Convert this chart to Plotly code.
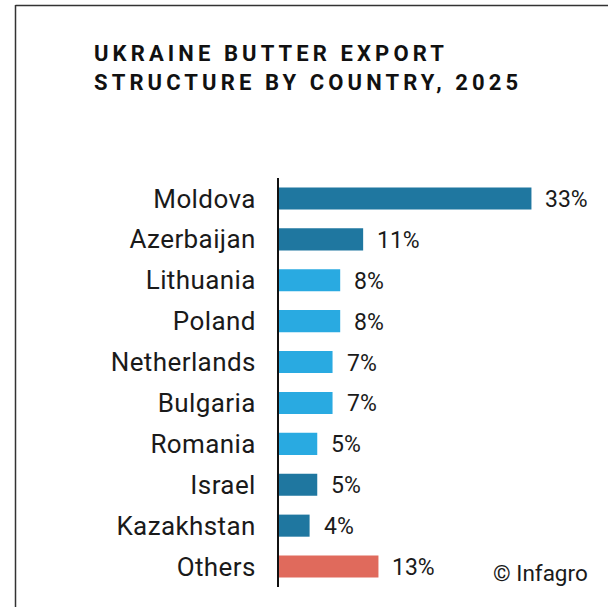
import plotly.graph_objects as go

# Ukraine butter export structure by destination country, 2025 (share, %)
countries = ["Moldova", "Azerbaijan", "Lithuania", "Poland", "Netherlands",
             "Bulgaria", "Romania", "Israel", "Kazakhstan", "Others"]
shares = [33, 11, 8, 8, 7, 7, 5, 5, 4, 13]
groups = ["dark", "dark", "light", "light", "light",
          "light", "light", "dark", "dark", "other"]

palette = {"dark": "#1F77A0", "light": "#29AAE1", "other": "#E06A5C"}
bar_colors = [palette[g] for g in groups]

W, H = 608, 607
left, right, top, bottom = 279, 23, 177.5, 19.5
x_max = 40
plot_w = W - left - right
plot_h = H - top - bottom


def px_x(px):
    return (px - left) / plot_w


def px_y(py):
    return (H - bottom - py) / plot_h


fig = go.Figure()
fig.add_trace(go.Bar(
    x=shares, y=countries, orientation="h",
    marker=dict(color=bar_colors, line=dict(width=0)),
    hoverinfo="skip", cliponaxis=False,
))

# value labels to the right of each bar
for c, v in zip(countries, shares):
    fig.add_annotation(x=v, y=c, xref="x", yref="y", text=f"{v}%",
                       showarrow=False, xanchor="left", yanchor="middle",
                       xshift=12, yshift=-1,
                       font=dict(family="Roboto", size=23, color="#1a1a1a"))

spacing = "letter-spacing:4.1px"
title_lines = ["UKRAINE BUTTER EXPORT", "STRUCTURE BY COUNTRY, 2025"]
title_html = "<br>".join(f'<span style="{spacing}">{t}</span>' for t in title_lines)
fig.add_annotation(xref="paper", yref="paper", x=px_x(92), y=px_y(38),
                   text=title_html, showarrow=False, xanchor="left",
                   yanchor="top", align="left",
                   font=dict(family="Roboto", size=22, color="#111111",
                             weight="bold"))

fig.add_annotation(xref="paper", yref="paper", x=px_x(491), y=px_y(573),
                   text="© Infagro", showarrow=False, xanchor="left",
                   yanchor="middle",
                   font=dict(family="Roboto", size=22.5, color="#1a1a1a"))

# frame lines along the top and left edges
fig.add_shape(type="line", xref="paper", yref="paper",
              x0=px_x(15.5), x1=px_x(610), y0=px_y(4.7), y1=px_y(4.7),
              line=dict(color="#333333", width=1.5))
fig.add_shape(type="line", xref="paper", yref="paper",
              x0=px_x(15.5), x1=px_x(15.5), y0=px_y(4), y1=px_y(610),
              line=dict(color="#333333", width=1.5))

tick_labels = [f'<span style="letter-spacing:0.4px">{c}</span>' for c in countries]

fig.update_layout(
    width=W, height=H,
    margin=dict(l=left, r=right, t=top, b=bottom, pad=0),
    paper_bgcolor="white", plot_bgcolor="white",
    showlegend=False, bargap=0.46,
    xaxis=dict(range=[0, x_max], visible=False, fixedrange=True),
    yaxis=dict(type="category", categoryorder="array", categoryarray=countries,
               tickmode="array", tickvals=countries, ticktext=tick_labels,
               range=[len(countries) - 0.5, -0.5], showgrid=False,
               showline=True, linecolor="#111111", linewidth=2,
               ticks="", ticklabelstandoff=16, zeroline=False,
               tickfont=dict(family="Roboto", size=26, color="#1a1a1a")),
)

fig.write_html("out.html")
